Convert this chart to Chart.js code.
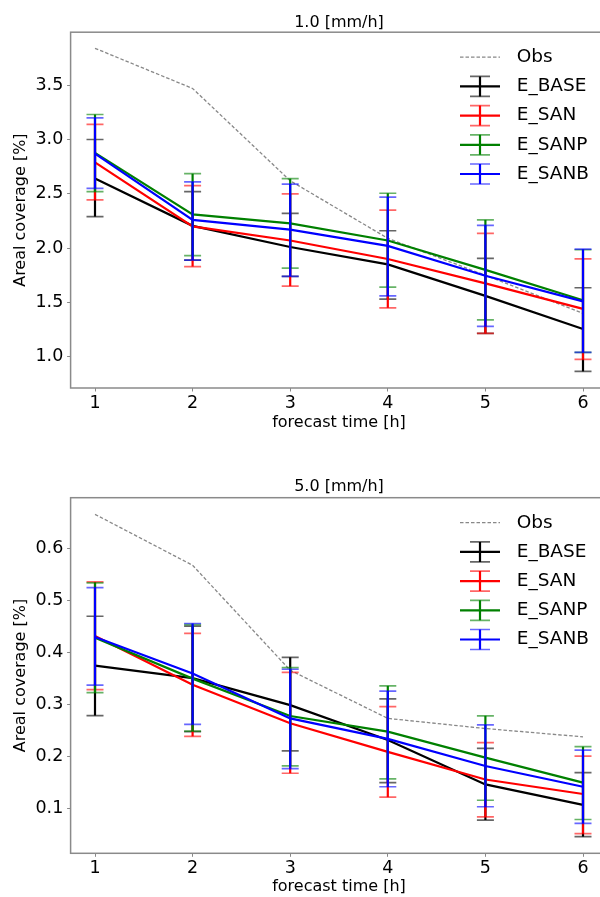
<!DOCTYPE html>
<html lang="en">
<head>
  <meta charset="UTF-8" />
  <title>Areal coverage</title>
  <script src="https://cdn.jsdelivr.net/npm/chart.js"></script>
  <style>
    body {
      margin: 0;
      background: #fff;
      overflow: hidden;
      width: 600px;
      height: 897px;
      position: relative;
    }
    .panel {
      position: absolute;
      left: 0;
    }
  </style>
</head>
<body>
  <div class="panel" style="top:0"><canvas id="chart10" width="620" height="440"></canvas></div>
  <div class="panel" style="top:440px"><canvas id="chart50" width="620" height="457"></canvas></div>

  <script>
    const hours = [1, 2, 3, 4, 5, 6];
    const seriesNames = ["Obs", "E_BASE", "E_SAN", "E_SANP", "E_SANB"];

    // 1.0 mm/h
    const yTicks10 = [1.0, 1.5, 2.0, 2.5, 3.0, 3.5];
    const obs10 = [3.84, 3.47, 2.62, 2.09, 1.75, 1.40];
    const base10 = [2.64, 2.205, 2.01, 1.85, 1.56, 1.255];
    const base10Lo = [2.29, 1.89, 1.74, 1.53, 1.215, 0.865];
    const base10Hi = [3.00, 2.52, 2.32, 2.16, 1.905, 1.635];
    const san10 = [2.79, 2.20, 2.07, 1.90, 1.675, 1.44];
    const san10Lo = [2.445, 1.83, 1.65, 1.45, 1.215, 0.975];
    const san10Hi = [3.14, 2.575, 2.50, 2.35, 2.135, 1.90];
    const sanp10 = [2.877, 2.31, 2.227, 2.07, 1.80, 1.52];
    const sanp10Lo = [2.52, 1.93, 1.815, 1.64, 1.34, 1.04];
    const sanp10Hi = [3.23, 2.685, 2.64, 2.505, 2.26, 1.985];
    const sanb10 = [2.87, 2.26, 2.17, 2.02, 1.745, 1.51];
    const sanb10Lo = [2.55, 1.89, 1.74, 1.56, 1.28, 1.04];
    const sanb10Hi = [3.20, 2.61, 2.59, 2.47, 2.21, 1.99];

    // 5.0 mm/h
    const yTicks50 = [0.1, 0.2, 0.3, 0.4, 0.5, 0.6];
    const obs50 = [0.665, 0.567, 0.365, 0.2725, 0.253, 0.237];
    const base50 = [0.374, 0.35, 0.298, 0.231, 0.1455, 0.106];
    const base50Lo = [0.278, 0.247, 0.21, 0.149, 0.077, 0.045];
    const base50Hi = [0.469, 0.45, 0.39, 0.31, 0.215, 0.168];
    const san50 = [0.431, 0.337, 0.263, 0.208, 0.155, 0.127];
    const san50Lo = [0.328, 0.238, 0.167, 0.121, 0.083, 0.051];
    const san50Hi = [0.535, 0.436, 0.361, 0.295, 0.226, 0.20];
    const sanp50 = [0.4275, 0.349, 0.277, 0.247, 0.197, 0.149];
    const sanp50Lo = [0.322, 0.248, 0.181, 0.156, 0.115, 0.078];
    const sanp50Hi = [0.533, 0.453, 0.37, 0.335, 0.2775, 0.218];
    const sanb50 = [0.429, 0.359, 0.2725, 0.233, 0.181, 0.141];
    const sanb50Lo = [0.3365, 0.261, 0.176, 0.141, 0.1025, 0.0705];
    const sanb50Hi = [0.524, 0.455, 0.367, 0.325, 0.26, 0.2115];

    const colors = ["#888888", "#000000", "#ff0000", "#008000", "#0000ff"];
    const FONT = "'DejaVu Sans', sans-serif";

    Chart.defaults.font.family = FONT;
    Chart.defaults.color = "#000";

    function withAlpha(hex, a) {
      const n = parseInt(hex.slice(1), 16);
      return `rgba(${(n >> 16) & 255},${(n >> 8) & 255},${n & 255},${a})`;
    }

    // frame around the plot area
    const framePlugin = {
      id: "frame",
      beforeDatasetsDraw(chart) {
        const { ctx, chartArea: a } = chart;
        ctx.save();
        ctx.strokeStyle = "#8a8a8a";
        ctx.lineWidth = 1.5;
        ctx.strokeRect(a.left, a.top, a.right - a.left, a.bottom - a.top);
        ctx.restore();
      }
    };

    // vertical error bars with caps, drawn right after each dataset
    const errorBarPlugin = {
      id: "errorBars",
      afterDatasetDraw(chart, args) {
        const ds = chart.data.datasets[args.index];
        if (!ds.errLo) return;
        const { ctx } = chart;
        const xs = chart.scales.x, ys = chart.scales.y;
        ctx.save();
        ds.data.forEach((p, i) => {
          const x = xs.getPixelForValue(p.x);
          const y1 = ys.getPixelForValue(ds.errLo[i]);
          const y2 = ys.getPixelForValue(ds.errHi[i]);
          ctx.strokeStyle = ds.borderColor;
          ctx.lineWidth = 2.2;
          ctx.beginPath();
          ctx.moveTo(x, y1);
          ctx.lineTo(x, y2);
          ctx.stroke();
          ctx.strokeStyle = withAlpha(ds.borderColor, 0.6);
          ctx.lineWidth = 1.7;
          ctx.beginPath();
          ctx.moveTo(x - 8.5, y1); ctx.lineTo(x + 8.5, y1);
          ctx.moveTo(x - 8.5, y2); ctx.lineTo(x + 8.5, y2);
          ctx.stroke();
        });
        ctx.restore();
      }
    };

    // matplotlib-like legend in the upper right of the plot
    const legendPlugin = {
      id: "mplLegend",
      afterDraw(chart) {
        const { ctx, chartArea: a } = chart;
        const x0 = a.right - 147.4, x1 = a.right - 107.4, xm = (x0 + x1) / 2;
        ctx.save();
        ctx.font = `18.5px ${FONT}`;
        ctx.textBaseline = "middle";
        ctx.textAlign = "left";
        chart.data.datasets.forEach((ds, i) => {
          const y = a.top + 25 + i * 29.2;
          ctx.strokeStyle = ds.borderColor;
          if (ds.errLo) {
            ctx.setLineDash([]);
            ctx.lineWidth = 2.2;
            ctx.beginPath();
            ctx.moveTo(x0, y); ctx.lineTo(x1, y);
            ctx.moveTo(xm, y - 10); ctx.lineTo(xm, y + 10);
            ctx.stroke();
            ctx.strokeStyle = withAlpha(ds.borderColor, 0.6);
            ctx.lineWidth = 1.7;
            ctx.beginPath();
            ctx.moveTo(xm - 10, y - 10); ctx.lineTo(xm + 10, y - 10);
            ctx.moveTo(xm - 10, y + 10); ctx.lineTo(xm + 10, y + 10);
            ctx.stroke();
          } else {
            ctx.lineWidth = 1.3;
            ctx.setLineDash(ds.borderDash);
            ctx.beginPath();
            ctx.moveTo(x0, y); ctx.lineTo(x1, y);
            ctx.stroke();
            ctx.setLineDash([]);
          }
          ctx.fillStyle = "#000";
          ctx.fillText(ds.label, a.right - 90.7, y);
        });
        ctx.restore();
      }
    };

    function pts(values) {
      return values.map((v, i) => ({ x: hours[i], y: v }));
    }

    function makeDatasets(obs, lines, los, his) {
      const sets = [{
        label: seriesNames[0],
        data: pts(obs),
        borderColor: colors[0],
        borderWidth: 1.3,
        borderDash: [3.5, 2],
        pointRadius: 0,
        order: 4
      }];
      lines.forEach((vals, k) => {
        sets.push({
          label: seriesNames[k + 1],
          data: pts(vals),
          errLo: los[k],
          errHi: his[k],
          borderColor: colors[k + 1],
          borderWidth: 2.2,
          pointRadius: 0,
          order: 3 - k
        });
      });
      return sets;
    }

    function makeChart(id, title, titlePad, axisHeight, xTitlePadBottom, yMin, yMax, yTicks, datasets) {
      return new Chart(document.getElementById(id), {
        type: "line",
        data: { datasets },
        plugins: [framePlugin, errorBarPlugin, legendPlugin],
        options: {
          responsive: false,
          animation: false,
          layout: { padding: { left: 0, right: 12.6, top: 0, bottom: 0 } },
          plugins: {
            legend: { display: false },
            tooltip: { enabled: false },
            title: {
              display: true,
              text: title,
              fullSize: false,
              color: "#000",
              font: { size: 16, weight: "normal" },
              padding: titlePad
            }
          },
          scales: {
            x: {
              type: "linear",
              min: 0.75,
              max: 6.25,
              afterBuildTicks: s => { s.ticks = hours.map(v => ({ value: v })); },
              afterFit: s => { s.height = axisHeight; },
              ticks: { font: { size: 17.5 }, color: "#000", padding: 1, callback: v => String(v) },
              grid: { drawOnChartArea: false, drawTicks: true, tickLength: 3.5, tickColor: "#888" },
              border: { display: false },
              title: {
                display: true,
                text: "forecast time [h]",
                color: "#000",
                font: { size: 16 },
                padding: { top: 0, bottom: xTitlePadBottom }
              }
            },
            y: {
              min: yMin,
              max: yMax,
              afterBuildTicks: s => { s.ticks = yTicks.map(v => ({ value: v })); },
              afterFit: s => { s.width = 70.6; },
              ticks: { font: { size: 17.5 }, color: "#000", padding: 3.8, callback: v => v.toFixed(1) },
              grid: { drawOnChartArea: false, drawTicks: true, tickLength: 3.5, tickColor: "#888" },
              border: { display: false },
              title: {
                display: true,
                text: "Areal coverage [%]",
                color: "#000",
                font: { size: 16 },
                padding: { top: 11.4, bottom: 0 }
              }
            }
          }
        }
      });
    }

    makeChart("chart10", "1.0 [mm/h]", { top: 13, bottom: 0 }, 52, 7.4, 0.712, 3.988, yTicks10,
      makeDatasets(obs10,
        [base10, san10, sanp10, sanb10],
        [base10Lo, san10Lo, sanp10Lo, sanb10Lo],
        [base10Hi, san10Hi, sanp10Hi, sanb10Hi]));

    makeChart("chart50", "5.0 [mm/h]", { top: 37.1, bottom: 1.4 }, 43.7, 0.7, 0.013, 0.697, yTicks50,
      makeDatasets(obs50,
        [base50, san50, sanp50, sanb50],
        [base50Lo, san50Lo, sanp50Lo, sanb50Lo],
        [base50Hi, san50Hi, sanp50Hi, sanb50Hi]));
  </script>
</body>
</html>
